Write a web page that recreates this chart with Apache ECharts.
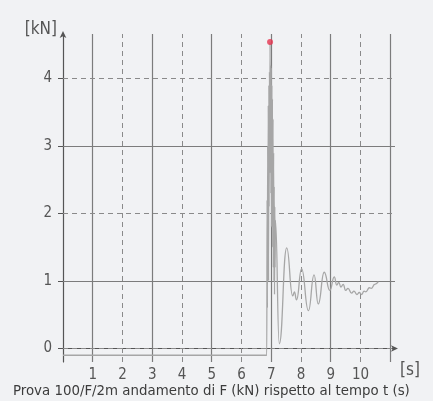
<!DOCTYPE html>
<html>
<head>
<meta charset="utf-8">
<script src="https://cdn.jsdelivr.net/npm/echarts@6/dist/echarts.min.js"></script>
<style>
  html, body { margin: 0; padding: 0; background: #f1f2f4; }
  #chart { width: 433px; height: 401px; }
</style>
</head>
<body>
<div id="chart"></div>
<script>
// Force F (kN) measured over time t (s)
const times = [
  0, 6.85,
  6.86, 6.87, 6.88, 6.89, 6.90, 6.91, 6.92, 6.93, 6.94, 6.95, 6.96, 6.97, 6.98, 6.99,
  7.00, 7.01, 7.02, 7.03, 7.04, 7.05, 7.06, 7.07, 7.08, 7.09, 7.10, 7.11, 7.12, 7.13, 7.14,
  7.27, 7.52, 7.72, 7.78, 7.85, 8.02, 8.25, 8.44, 8.58, 8.78, 8.97, 9.12, 9.20, 9.27,
  9.34, 9.42, 9.50, 9.58, 9.70, 9.78, 9.88, 9.96, 10.04, 10.12, 10.18, 10.30, 10.36,
  10.48, 10.60
];
const forces = [
  -0.1, -0.1,
  2.2, 0.6, 3.0, 1.4, 3.6, 1.0, 3.9, 2.1, 4.1, 2.6, 4.54, 2.9, 4.2, 2.3,
  4.16, 1.8, 3.9, 2.4, 3.7, 1.5, 3.4, 1.2, 2.9, 1.0, 2.4, 0.8, 2.1, 1.2, 1.9,
  0.07, 1.49, 0.78, 0.84, 0.72, 1.18, 0.56, 1.09, 0.66, 1.13, 0.86, 1.06, 0.94, 0.98,
  0.91, 0.95, 0.86, 0.89, 0.82, 0.85, 0.80, 0.83, 0.80, 0.85, 0.84, 0.90, 0.89,
  0.95, 0.99
];

// Axis ticks and grid lines
const xTickLabels = [1, 2, 3, 4, 5, 6, 7, 8, 9, 10];
const yTickLabels = [0, 1, 2, 3, 4];
const xSolidLines = [1, 3, 5, 7, 9, 11];
const xDashedLines = [2, 4, 6, 8, 10];
const ySolidLines = [1, 3];
const yDashedLines = [0, 2, 4];

const FONT = "'DejaVu Sans Condensed', 'DejaVu Sans', sans-serif";
const AXIS_COLOR = '#555';

const series = times.map((t, i) => [t, forces[i]]);
let peakIdx = 0;
forces.forEach((v, i) => { if (v > forces[peakIdx]) peakIdx = i; });

const solidStyle = { type: 'solid', color: '#7c7c7c', width: 1.2 };
const dashedStyle = { type: [5, 4], color: '#8a8a8a', width: 1 };
const gridLines = [
  ...xSolidLines.map(v => ({ xAxis: v, lineStyle: solidStyle })),
  ...xDashedLines.map(v => ({ xAxis: v, lineStyle: dashedStyle })),
  ...ySolidLines.map(v => ({ yAxis: v, lineStyle: solidStyle })),
  ...yDashedLines.map(v => ({ yAxis: v, lineStyle: dashedStyle }))
];

const chart = echarts.init(document.getElementById('chart'), null, { renderer: 'canvas' });
chart.setOption({
  backgroundColor: '#f1f2f4',
  animation: false,
  title: {
    text: 'Prova 100/F/2m andamento di F (kN) rispetto al tempo t (s)',
    left: 13,
    bottom: 2,
    padding: 0,
    textStyle: { fontFamily: FONT, fontSize: 14.85, fontWeight: 'normal', color: '#3c3c3c' }
  },
  // unit label of the time axis, just past the arrow
  graphic: [{
    type: 'text',
    left: 400,
    top: 362,
    style: { text: '[s]', fontFamily: FONT, fontSize: 17, fill: AXIS_COLOR }
  }],
  grid: { left: 63, top: 34, right: 38, bottom: 39, containLabel: false },
  xAxis: {
    type: 'value',
    min: 0,
    max: 11.16,
    interval: 1,
    axisLine: {
      lineStyle: { color: AXIS_COLOR, width: 1.2 },
      symbol: ['none', 'arrow'],
      symbolSize: [5, 7],
      symbolOffset: [0, 3]
    },
    axisTick: { show: false },
    axisLabel: {
      fontFamily: FONT, fontSize: 15, color: AXIS_COLOR, margin: 6,
      formatter: v => (xTickLabels.includes(v) ? String(v) : '')
    },
    splitLine: { show: false }
  },
  yAxis: {
    type: 'value',
    min: -0.2,
    max: 4.66,
    name: '[kN]',
    nameLocation: 'end',
    nameGap: -4,
    nameTextStyle: { fontFamily: FONT, fontSize: 17, color: AXIS_COLOR, align: 'right', verticalAlign: 'bottom', padding: [0, 6, 0, 0] },
    axisLine: {
      lineStyle: { color: AXIS_COLOR, width: 1.2 },
      symbol: ['none', 'arrow'],
      symbolSize: [5, 7],
      symbolOffset: [0, 3]
    },
    axisTick: { show: true, customValues: yTickLabels, length: 5, lineStyle: { color: AXIS_COLOR } },
    axisLabel: { customValues: yTickLabels, fontFamily: FONT, fontSize: 15, color: AXIS_COLOR, margin: 11 },
    splitLine: { show: false }
  },
  series: [
    {
      type: 'line',
      data: series,
      showSymbol: false,
      smooth: 0.5,
      smoothMonotone: 'x',
      z: 3,
      lineStyle: { color: '#a6a6a6', width: 1.3 },
      markLine: {
        silent: true,
        z: 1,
        symbol: ['none', 'none'],
        label: { show: false },
        emphasis: { disabled: true },
        data: gridLines
      }
    },
    {
      type: 'scatter',
      data: [[times[peakIdx], forces[peakIdx]]],
      symbolSize: 6,
      z: 4,
      itemStyle: { color: '#e6334f' }
    }
  ]
});
</script>
</body>
</html>
